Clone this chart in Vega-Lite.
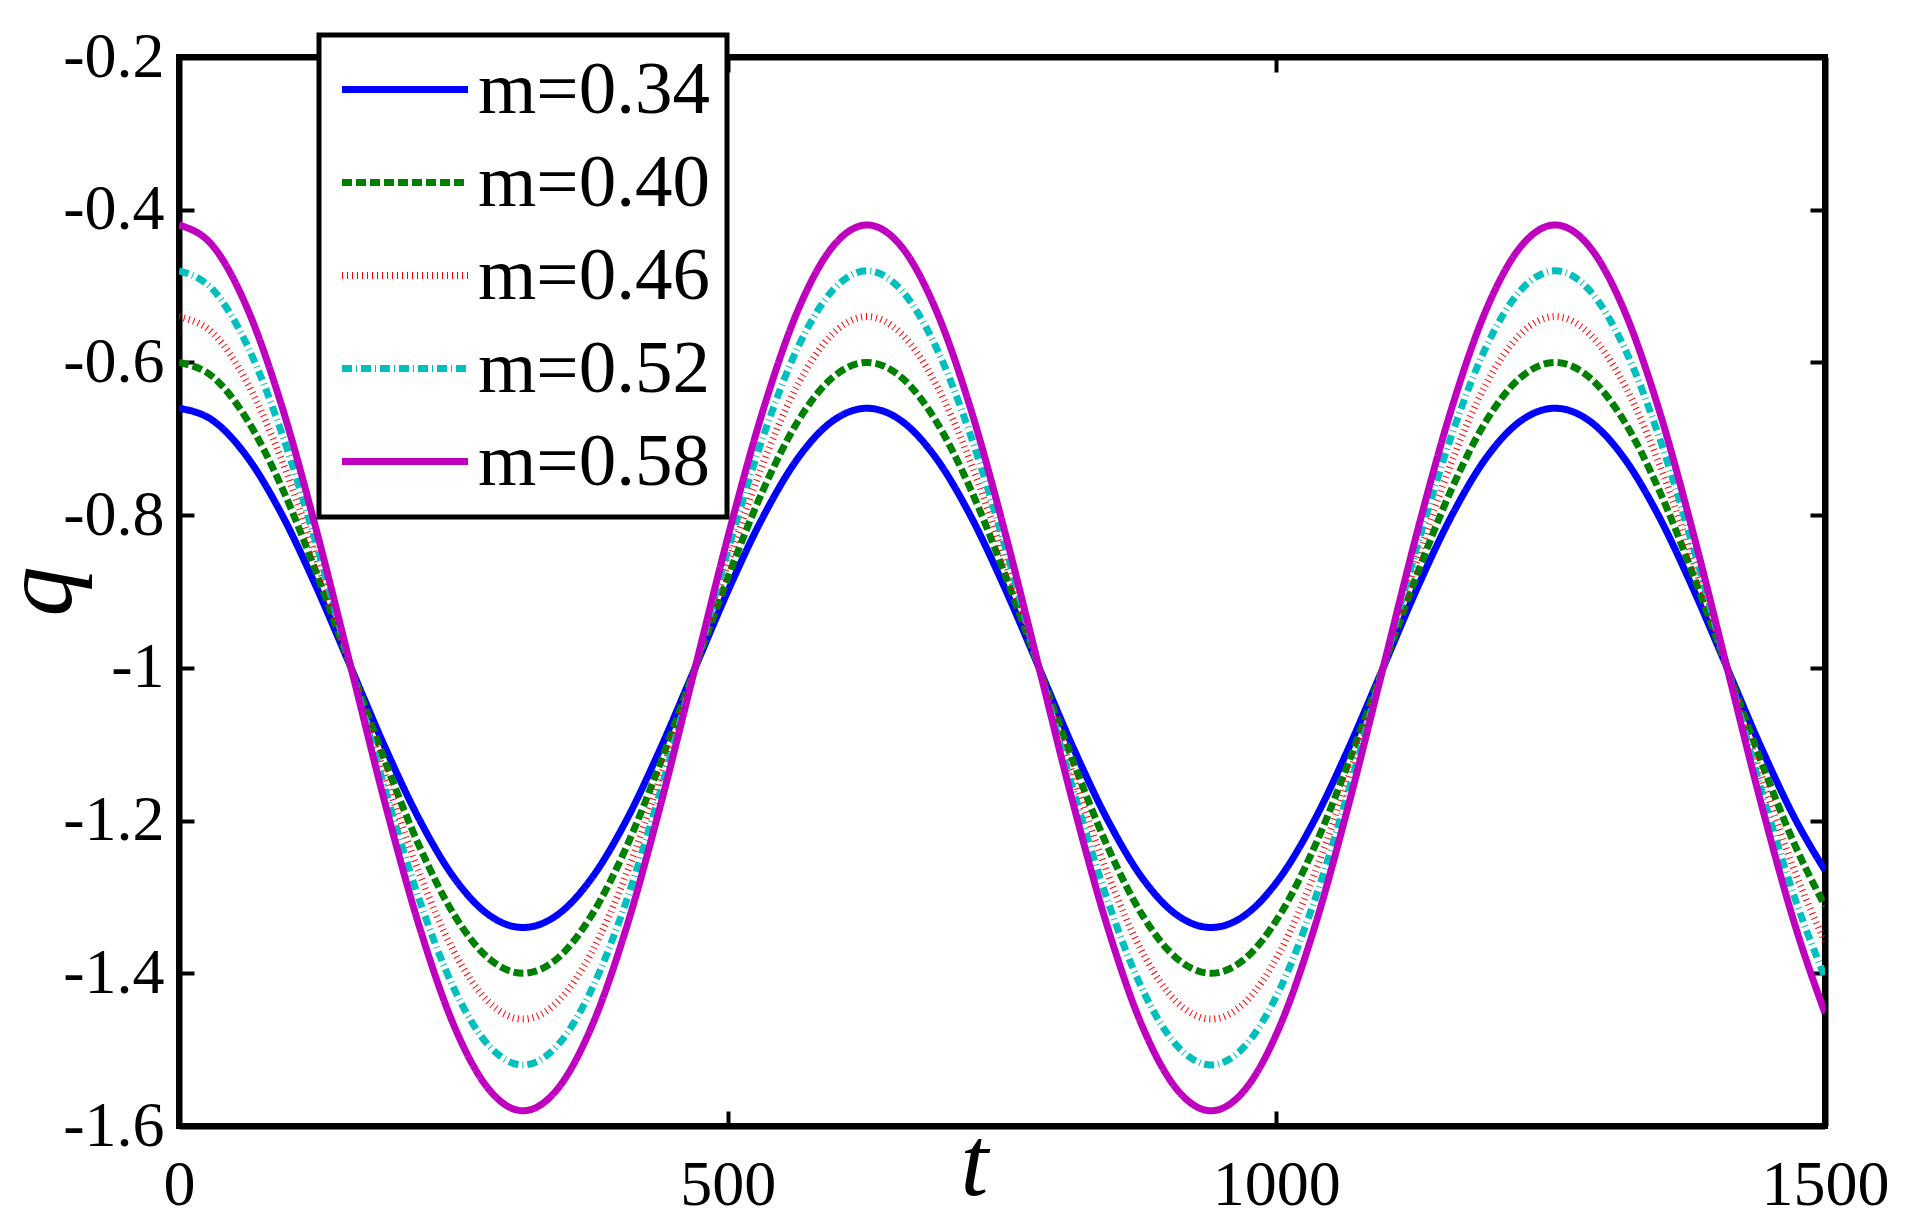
{
  "$schema": "https://vega.github.io/schema/vega-lite/v6.json",
  "autosize": "none",
  "width": 1646,
  "height": 1069,
  "padding": {"left": 179, "top": 57, "right": 96, "bottom": 91},
  "background": "white",
  "config": {
    "view": {"stroke": "black", "strokeWidth": 6},
    "font": "Liberation Serif",
    "axis": {
      "grid": false,
      "domainColor": "black",
      "domainWidth": 6,
      "tickColor": "black",
      "tickWidth": 4,
      "tickSize": -15,
      "labelFont": "Liberation Serif",
      "labelFontSize": 64,
      "labelColor": "black",
      "labelFlush": false,
      "titleFont": "Liberation Serif",
      "titleFontSize": 100,
      "titleFontStyle": "italic",
      "titleFontWeight": "normal",
      "titleColor": "black"
    },
    "legend": {
      "labelFont": "Liberation Serif",
      "labelFontSize": 75,
      "labelColor": "black",
      "labelLimit": 400,
      "strokeWidth": 5
    }
  },
  "data": {
    "values": [
      {"m":"m=0.34","t":0,"q":-0.66},
      {"m":"m=0.34","t":31.4,"q":-0.6766},
      {"m":"m=0.34","t":62.7,"q":-0.7249},
      {"m":"m=0.34","t":94.1,"q":-0.8002},
      {"m":"m=0.34","t":125.4,"q":-0.8949},
      {"m":"m=0.34","t":156.8,"q":-1},
      {"m":"m=0.34","t":188.1,"q":-1.1051},
      {"m":"m=0.34","t":219.5,"q":-1.1998},
      {"m":"m=0.34","t":250.8,"q":-1.2751},
      {"m":"m=0.34","t":282.2,"q":-1.3234},
      {"m":"m=0.34","t":313.5,"q":-1.34},
      {"m":"m=0.34","t":344.9,"q":-1.3234},
      {"m":"m=0.34","t":376.2,"q":-1.2751},
      {"m":"m=0.34","t":407.6,"q":-1.1998},
      {"m":"m=0.34","t":438.9,"q":-1.1051},
      {"m":"m=0.34","t":470.3,"q":-1},
      {"m":"m=0.34","t":501.6,"q":-0.8949},
      {"m":"m=0.34","t":533,"q":-0.8002},
      {"m":"m=0.34","t":564.3,"q":-0.7249},
      {"m":"m=0.34","t":595.7,"q":-0.6766},
      {"m":"m=0.34","t":627,"q":-0.66},
      {"m":"m=0.34","t":658.4,"q":-0.6766},
      {"m":"m=0.34","t":689.7,"q":-0.7249},
      {"m":"m=0.34","t":721.1,"q":-0.8002},
      {"m":"m=0.34","t":752.4,"q":-0.8949},
      {"m":"m=0.34","t":783.8,"q":-1},
      {"m":"m=0.34","t":815.1,"q":-1.1051},
      {"m":"m=0.34","t":846.5,"q":-1.1998},
      {"m":"m=0.34","t":877.8,"q":-1.2751},
      {"m":"m=0.34","t":909.2,"q":-1.3234},
      {"m":"m=0.34","t":940.5,"q":-1.34},
      {"m":"m=0.34","t":971.9,"q":-1.3234},
      {"m":"m=0.34","t":1003.2,"q":-1.2751},
      {"m":"m=0.34","t":1034.6,"q":-1.1998},
      {"m":"m=0.34","t":1065.9,"q":-1.1051},
      {"m":"m=0.34","t":1097.3,"q":-1},
      {"m":"m=0.34","t":1128.6,"q":-0.8949},
      {"m":"m=0.34","t":1160,"q":-0.8002},
      {"m":"m=0.34","t":1191.3,"q":-0.7249},
      {"m":"m=0.34","t":1222.7,"q":-0.6766},
      {"m":"m=0.34","t":1254,"q":-0.66},
      {"m":"m=0.34","t":1285.4,"q":-0.6766},
      {"m":"m=0.34","t":1316.7,"q":-0.7249},
      {"m":"m=0.34","t":1348.1,"q":-0.8002},
      {"m":"m=0.34","t":1379.4,"q":-0.8949},
      {"m":"m=0.34","t":1410.8,"q":-1},
      {"m":"m=0.34","t":1442.1,"q":-1.1051},
      {"m":"m=0.34","t":1473.5,"q":-1.1998},
      {"m":"m=0.34","t":1500,"q":-1.2651},

      {"m":"m=0.40","t":0,"q":-0.6},
      {"m":"m=0.40","t":31.4,"q":-0.6196},
      {"m":"m=0.40","t":62.7,"q":-0.6764},
      {"m":"m=0.40","t":94.1,"q":-0.7649},
      {"m":"m=0.40","t":125.4,"q":-0.8764},
      {"m":"m=0.40","t":156.8,"q":-1},
      {"m":"m=0.40","t":188.1,"q":-1.1236},
      {"m":"m=0.40","t":219.5,"q":-1.2351},
      {"m":"m=0.40","t":250.8,"q":-1.3236},
      {"m":"m=0.40","t":282.2,"q":-1.3804},
      {"m":"m=0.40","t":313.5,"q":-1.4},
      {"m":"m=0.40","t":344.9,"q":-1.3804},
      {"m":"m=0.40","t":376.2,"q":-1.3236},
      {"m":"m=0.40","t":407.6,"q":-1.2351},
      {"m":"m=0.40","t":438.9,"q":-1.1236},
      {"m":"m=0.40","t":470.3,"q":-1},
      {"m":"m=0.40","t":501.6,"q":-0.8764},
      {"m":"m=0.40","t":533,"q":-0.7649},
      {"m":"m=0.40","t":564.3,"q":-0.6764},
      {"m":"m=0.40","t":595.7,"q":-0.6196},
      {"m":"m=0.40","t":627,"q":-0.6},
      {"m":"m=0.40","t":658.4,"q":-0.6196},
      {"m":"m=0.40","t":689.7,"q":-0.6764},
      {"m":"m=0.40","t":721.1,"q":-0.7649},
      {"m":"m=0.40","t":752.4,"q":-0.8764},
      {"m":"m=0.40","t":783.8,"q":-1},
      {"m":"m=0.40","t":815.1,"q":-1.1236},
      {"m":"m=0.40","t":846.5,"q":-1.2351},
      {"m":"m=0.40","t":877.8,"q":-1.3236},
      {"m":"m=0.40","t":909.2,"q":-1.3804},
      {"m":"m=0.40","t":940.5,"q":-1.4},
      {"m":"m=0.40","t":971.9,"q":-1.3804},
      {"m":"m=0.40","t":1003.2,"q":-1.3236},
      {"m":"m=0.40","t":1034.6,"q":-1.2351},
      {"m":"m=0.40","t":1065.9,"q":-1.1236},
      {"m":"m=0.40","t":1097.3,"q":-1},
      {"m":"m=0.40","t":1128.6,"q":-0.8764},
      {"m":"m=0.40","t":1160,"q":-0.7649},
      {"m":"m=0.40","t":1191.3,"q":-0.6764},
      {"m":"m=0.40","t":1222.7,"q":-0.6196},
      {"m":"m=0.40","t":1254,"q":-0.6},
      {"m":"m=0.40","t":1285.4,"q":-0.6196},
      {"m":"m=0.40","t":1316.7,"q":-0.6764},
      {"m":"m=0.40","t":1348.1,"q":-0.7649},
      {"m":"m=0.40","t":1379.4,"q":-0.8764},
      {"m":"m=0.40","t":1410.8,"q":-1},
      {"m":"m=0.40","t":1442.1,"q":-1.1236},
      {"m":"m=0.40","t":1473.5,"q":-1.2351},
      {"m":"m=0.40","t":1500,"q":-1.3119},

      {"m":"m=0.46","t":0,"q":-0.54},
      {"m":"m=0.46","t":31.4,"q":-0.5625},
      {"m":"m=0.46","t":62.7,"q":-0.6279},
      {"m":"m=0.46","t":94.1,"q":-0.7296},
      {"m":"m=0.46","t":125.4,"q":-0.8579},
      {"m":"m=0.46","t":156.8,"q":-1},
      {"m":"m=0.46","t":188.1,"q":-1.1421},
      {"m":"m=0.46","t":219.5,"q":-1.2704},
      {"m":"m=0.46","t":250.8,"q":-1.3721},
      {"m":"m=0.46","t":282.2,"q":-1.4375},
      {"m":"m=0.46","t":313.5,"q":-1.46},
      {"m":"m=0.46","t":344.9,"q":-1.4375},
      {"m":"m=0.46","t":376.2,"q":-1.3721},
      {"m":"m=0.46","t":407.6,"q":-1.2704},
      {"m":"m=0.46","t":438.9,"q":-1.1421},
      {"m":"m=0.46","t":470.3,"q":-1},
      {"m":"m=0.46","t":501.6,"q":-0.8579},
      {"m":"m=0.46","t":533,"q":-0.7296},
      {"m":"m=0.46","t":564.3,"q":-0.6279},
      {"m":"m=0.46","t":595.7,"q":-0.5625},
      {"m":"m=0.46","t":627,"q":-0.54},
      {"m":"m=0.46","t":658.4,"q":-0.5625},
      {"m":"m=0.46","t":689.7,"q":-0.6279},
      {"m":"m=0.46","t":721.1,"q":-0.7296},
      {"m":"m=0.46","t":752.4,"q":-0.8579},
      {"m":"m=0.46","t":783.8,"q":-1},
      {"m":"m=0.46","t":815.1,"q":-1.1421},
      {"m":"m=0.46","t":846.5,"q":-1.2704},
      {"m":"m=0.46","t":877.8,"q":-1.3721},
      {"m":"m=0.46","t":909.2,"q":-1.4375},
      {"m":"m=0.46","t":940.5,"q":-1.46},
      {"m":"m=0.46","t":971.9,"q":-1.4375},
      {"m":"m=0.46","t":1003.2,"q":-1.3721},
      {"m":"m=0.46","t":1034.6,"q":-1.2704},
      {"m":"m=0.46","t":1065.9,"q":-1.1421},
      {"m":"m=0.46","t":1097.3,"q":-1},
      {"m":"m=0.46","t":1128.6,"q":-0.8579},
      {"m":"m=0.46","t":1160,"q":-0.7296},
      {"m":"m=0.46","t":1191.3,"q":-0.6279},
      {"m":"m=0.46","t":1222.7,"q":-0.5625},
      {"m":"m=0.46","t":1254,"q":-0.54},
      {"m":"m=0.46","t":1285.4,"q":-0.5625},
      {"m":"m=0.46","t":1316.7,"q":-0.6279},
      {"m":"m=0.46","t":1348.1,"q":-0.7296},
      {"m":"m=0.46","t":1379.4,"q":-0.8579},
      {"m":"m=0.46","t":1410.8,"q":-1},
      {"m":"m=0.46","t":1442.1,"q":-1.1421},
      {"m":"m=0.46","t":1473.5,"q":-1.2704},
      {"m":"m=0.46","t":1500,"q":-1.3587},

      {"m":"m=0.52","t":0,"q":-0.48},
      {"m":"m=0.52","t":31.4,"q":-0.5055},
      {"m":"m=0.52","t":62.7,"q":-0.5793},
      {"m":"m=0.52","t":94.1,"q":-0.6943},
      {"m":"m=0.52","t":125.4,"q":-0.8393},
      {"m":"m=0.52","t":156.8,"q":-1},
      {"m":"m=0.52","t":188.1,"q":-1.1607},
      {"m":"m=0.52","t":219.5,"q":-1.3057},
      {"m":"m=0.52","t":250.8,"q":-1.4207},
      {"m":"m=0.52","t":282.2,"q":-1.4945},
      {"m":"m=0.52","t":313.5,"q":-1.52},
      {"m":"m=0.52","t":344.9,"q":-1.4945},
      {"m":"m=0.52","t":376.2,"q":-1.4207},
      {"m":"m=0.52","t":407.6,"q":-1.3057},
      {"m":"m=0.52","t":438.9,"q":-1.1607},
      {"m":"m=0.52","t":470.3,"q":-1},
      {"m":"m=0.52","t":501.6,"q":-0.8393},
      {"m":"m=0.52","t":533,"q":-0.6943},
      {"m":"m=0.52","t":564.3,"q":-0.5793},
      {"m":"m=0.52","t":595.7,"q":-0.5055},
      {"m":"m=0.52","t":627,"q":-0.48},
      {"m":"m=0.52","t":658.4,"q":-0.5055},
      {"m":"m=0.52","t":689.7,"q":-0.5793},
      {"m":"m=0.52","t":721.1,"q":-0.6943},
      {"m":"m=0.52","t":752.4,"q":-0.8393},
      {"m":"m=0.52","t":783.8,"q":-1},
      {"m":"m=0.52","t":815.1,"q":-1.1607},
      {"m":"m=0.52","t":846.5,"q":-1.3057},
      {"m":"m=0.52","t":877.8,"q":-1.4207},
      {"m":"m=0.52","t":909.2,"q":-1.4945},
      {"m":"m=0.52","t":940.5,"q":-1.52},
      {"m":"m=0.52","t":971.9,"q":-1.4945},
      {"m":"m=0.52","t":1003.2,"q":-1.4207},
      {"m":"m=0.52","t":1034.6,"q":-1.3057},
      {"m":"m=0.52","t":1065.9,"q":-1.1607},
      {"m":"m=0.52","t":1097.3,"q":-1},
      {"m":"m=0.52","t":1128.6,"q":-0.8393},
      {"m":"m=0.52","t":1160,"q":-0.6943},
      {"m":"m=0.52","t":1191.3,"q":-0.5793},
      {"m":"m=0.52","t":1222.7,"q":-0.5055},
      {"m":"m=0.52","t":1254,"q":-0.48},
      {"m":"m=0.52","t":1285.4,"q":-0.5055},
      {"m":"m=0.52","t":1316.7,"q":-0.5793},
      {"m":"m=0.52","t":1348.1,"q":-0.6943},
      {"m":"m=0.52","t":1379.4,"q":-0.8393},
      {"m":"m=0.52","t":1410.8,"q":-1},
      {"m":"m=0.52","t":1442.1,"q":-1.1607},
      {"m":"m=0.52","t":1473.5,"q":-1.3057},
      {"m":"m=0.52","t":1500,"q":-1.4054},

      {"m":"m=0.58","t":0,"q":-0.42},
      {"m":"m=0.58","t":31.4,"q":-0.4484},
      {"m":"m=0.58","t":62.7,"q":-0.5308},
      {"m":"m=0.58","t":94.1,"q":-0.6591},
      {"m":"m=0.58","t":125.4,"q":-0.8208},
      {"m":"m=0.58","t":156.8,"q":-1},
      {"m":"m=0.58","t":188.1,"q":-1.1792},
      {"m":"m=0.58","t":219.5,"q":-1.3409},
      {"m":"m=0.58","t":250.8,"q":-1.4692},
      {"m":"m=0.58","t":282.2,"q":-1.5516},
      {"m":"m=0.58","t":313.5,"q":-1.58},
      {"m":"m=0.58","t":344.9,"q":-1.5516},
      {"m":"m=0.58","t":376.2,"q":-1.4692},
      {"m":"m=0.58","t":407.6,"q":-1.3409},
      {"m":"m=0.58","t":438.9,"q":-1.1792},
      {"m":"m=0.58","t":470.3,"q":-1},
      {"m":"m=0.58","t":501.6,"q":-0.8208},
      {"m":"m=0.58","t":533,"q":-0.6591},
      {"m":"m=0.58","t":564.3,"q":-0.5308},
      {"m":"m=0.58","t":595.7,"q":-0.4484},
      {"m":"m=0.58","t":627,"q":-0.42},
      {"m":"m=0.58","t":658.4,"q":-0.4484},
      {"m":"m=0.58","t":689.7,"q":-0.5308},
      {"m":"m=0.58","t":721.1,"q":-0.6591},
      {"m":"m=0.58","t":752.4,"q":-0.8208},
      {"m":"m=0.58","t":783.8,"q":-1},
      {"m":"m=0.58","t":815.1,"q":-1.1792},
      {"m":"m=0.58","t":846.5,"q":-1.3409},
      {"m":"m=0.58","t":877.8,"q":-1.4692},
      {"m":"m=0.58","t":909.2,"q":-1.5516},
      {"m":"m=0.58","t":940.5,"q":-1.58},
      {"m":"m=0.58","t":971.9,"q":-1.5516},
      {"m":"m=0.58","t":1003.2,"q":-1.4692},
      {"m":"m=0.58","t":1034.6,"q":-1.3409},
      {"m":"m=0.58","t":1065.9,"q":-1.1792},
      {"m":"m=0.58","t":1097.3,"q":-1},
      {"m":"m=0.58","t":1128.6,"q":-0.8208},
      {"m":"m=0.58","t":1160,"q":-0.6591},
      {"m":"m=0.58","t":1191.3,"q":-0.5308},
      {"m":"m=0.58","t":1222.7,"q":-0.4484},
      {"m":"m=0.58","t":1254,"q":-0.42},
      {"m":"m=0.58","t":1285.4,"q":-0.4484},
      {"m":"m=0.58","t":1316.7,"q":-0.5308},
      {"m":"m=0.58","t":1348.1,"q":-0.6591},
      {"m":"m=0.58","t":1379.4,"q":-0.8208},
      {"m":"m=0.58","t":1410.8,"q":-1},
      {"m":"m=0.58","t":1442.1,"q":-1.1792},
      {"m":"m=0.58","t":1473.5,"q":-1.3409},
      {"m":"m=0.58","t":1500,"q":-1.4522}
    ]
  },
  "layer": [
    {
      "mark": {"type": "line", "interpolate": "monotone", "clip": true},
      "encoding": {
        "x": {
          "field": "t", "type": "quantitative",
          "scale": {"domain": [0, 1500], "nice": false, "zero": false},
          "axis": {
            "orient": "bottom",
            "values": [0, 500, 1000, 1500],
            "format": "d",
            "labelPadding": 42,
            "title": "t",
            "titleX": 795,
            "titleY": 68,
            "titleAlign": "center",
            "titleBaseline": "alphabetic"
          }
        },
        "y": {
          "field": "q", "type": "quantitative",
          "scale": {"domain": [-1.6, -0.2], "nice": false, "zero": false},
          "axis": {
            "orient": "left",
            "values": [-1.6, -1.4, -1.2, -1, -0.8, -0.6, -0.4, -0.2],
            "labelExpr": "(datum.value < 0 ? '-' : '') + format(abs(datum.value), '~g')",
            "labelPadding": 30,
            "title": "q",
            "titleAngle": 270,
            "titleX": -109,
            "titleY": 534,
            "titleAlign": "center",
            "titleBaseline": "alphabetic"
          }
        },
        "color": {
          "field": "m", "type": "nominal",
          "scale": {
            "domain": ["m=0.34", "m=0.40", "m=0.46", "m=0.52", "m=0.58"],
            "range": ["#0000ff", "#008000", "#ff0000", "#00bfbf", "#bf00bf"]
          },
          "legend": {
            "title": null,
            "orient": "none",
            "legendX": 140,
            "legendY": -22,
            "symbolType": "M-1,0H3",
            "symbolSize": 3969,
            "labelOffset": 67,
            "padding": 17,
            "rowPadding": 17,
            "strokeColor": "black",
            "fillColor": "white",
            "cornerRadius": 0
          }
        },
        "strokeDash": {
          "field": "m", "type": "nominal",
          "scale": {
            "domain": ["m=0.34", "m=0.40", "m=0.46", "m=0.52", "m=0.58"],
            "range": [[1, 0], [10, 4], [1, 4], [10, 4, 1, 4], [1, 0]]
          },
          "legend": {"title": null}
        },
        "strokeWidth": {
          "field": "m", "type": "nominal",
          "scale": {
            "domain": ["m=0.34", "m=0.40", "m=0.46", "m=0.52", "m=0.58"],
            "range": [7, 7, 7, 7, 7]
          },
          "legend": {"title": null}
        }
      }
    },
    {
      "mark": {"type": "line", "opacity": 0},
      "encoding": {
        "x": {
          "field": "t", "type": "quantitative",
          "axis": {"orient": "top", "values": [0, 500, 1000, 1500], "labels": false, "title": null}
        },
        "y": {
          "field": "q", "type": "quantitative",
          "axis": {"orient": "right", "values": [-1.6, -1.4, -1.2, -1, -0.8, -0.6, -0.4, -0.2], "labels": false, "title": null}
        }
      }
    }
  ],
  "resolve": {"axis": {"x": "independent", "y": "independent"}}
}
